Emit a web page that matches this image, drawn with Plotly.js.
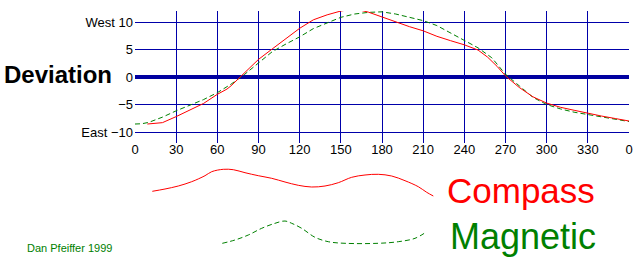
<!DOCTYPE html>
<html>
<head>
<meta charset="utf-8">
<script src="https://cdn.plot.ly/plotly-3.0.1.min.js"></script>
<style>html,body{margin:0;padding:0;background:#fff;}#chart{width:637px;height:261px;}</style>
</head>
<body>
<div id="chart"></div>
<script>
// Heading (degrees) and deviation values
const magneticHeading = [0, 5, 10, 20, 30, 40, 50, 60, 70, 80, 90, 100, 110, 120, 130, 140, 150, 160, 170, 180, 190, 200, 210, 220, 230, 240, 250, 260, 270, 280, 290, 300, 310, 320, 330, 340, 350, 360];
const magneticDeviation = [-8.55, -8.5, -8.25, -7.3, -6.15, -5.1, -4.1, -2.85, -1.3, 0.5, 2.6, 4.6, 6.0, 7.3, 8.8, 9.8, 10.85, 11.45, 11.75, 11.85, 11.45, 10.85, 10.25, 9.35, 8.0, 6.7, 5.3, 3.5, 0.5, -1.6, -3.7, -5.0, -5.8, -6.4, -6.85, -7.3, -7.7, -8.1];
const compassHeading = [9, 20, 30, 40, 50, 60, 67, 70, 80, 90, 100, 110, 120, 130, 140, 150, 160, 170, 180, 190, 200, 210, 220, 230, 240, 250, 257, 264, 270, 280, 290, 300, 310, 320, 330, 340, 350, 360];
const compassDeviation = [-8.55, -8.3, -7.2, -6.0, -4.8, -3.15, -2.2, -1.6, 0.8, 3.2, 5.1, 7.0, 8.85, 10.4, 11.3, 12.0, 12.4, 11.8, 10.9, 10.05, 9.15, 8.4, 7.4, 6.6, 5.85, 4.9, 3.6, 1.9, 0.2, -1.9, -3.6, -4.75, -5.5, -6.05, -6.6, -7.1, -7.55, -8.0];

const xTickVals = [0, 30, 60, 90, 120, 150, 180, 210, 240, 270, 300, 330, 360];
const xTickText = ["0", "30", "60", "90", "120", "150", "180", "210", "240", "270", "300", "330", "0"];
const yTickVals = [-10, -5, 0, 5, 10];
const yTickText = ["East \u221210", "\u22125", "0", "5", "West 10"];

// Legend sample squiggles (in page pixel units)
const compassSampleX = [152.3, 165, 178.3, 191.7, 205, 211.7, 223.3, 233.3, 245, 258.3, 271.7, 285, 298.3, 311.7, 325, 338.3, 351.7, 365, 378.3, 391.7, 405, 418.3, 426.7, 433.3];
const compassSampleY = [191.3, 189, 186, 181.7, 175.7, 171.7, 169.3, 169.7, 172.7, 175.7, 178.3, 182, 185.3, 187, 186, 182.7, 177.3, 175, 174.3, 176, 180.7, 186.7, 192.3, 196];
const magneticSampleX = [222.3, 235, 248.3, 261.7, 275, 285, 291.7, 301.7, 315, 328.3, 345, 378.3, 398.3, 415, 426.7];
const magneticSampleY = [243.3, 240, 235, 228.3, 223.3, 221, 223.3, 228.3, 237.3, 241.7, 243.3, 243.3, 241.7, 238.3, 231.7];

const FONT = "Liberation Sans, Arial, Helvetica, sans-serif";
const GRID = "#0000AA";
const RED = "#FF0000";
const GREEN = "#008000";

const traces = [
  {x: magneticHeading, y: magneticDeviation, type: "scatter", mode: "lines",
   line: {color: GREEN, width: 1, dash: "5px,3px"}, xaxis: "x", yaxis: "y", hoverinfo: "skip"},
  {x: compassHeading, y: compassDeviation, type: "scatter", mode: "lines",
   line: {color: RED, width: 1}, xaxis: "x", yaxis: "y", hoverinfo: "skip"},
  {x: compassSampleX, y: compassSampleY, type: "scatter", mode: "lines",
   line: {color: RED, width: 1, shape: "spline"}, xaxis: "x2", yaxis: "y2", hoverinfo: "skip"},
  {x: magneticSampleX, y: magneticSampleY, type: "scatter", mode: "lines",
   line: {color: GREEN, width: 1, dash: "5px,3px", shape: "spline"}, xaxis: "x2", yaxis: "y2", hoverinfo: "skip"}
];

const layout = {
  width: 637, height: 261,
  margin: {l: 0, r: 0, t: 0, b: 0, pad: 0},
  paper_bgcolor: "#ffffff",
  plot_bgcolor: "rgba(0,0,0,0)",
  showlegend: false,
  font: {family: FONT, size: 13, color: "#000"},
  xaxis: {
    domain: [135/637, 629/637], range: [0, 360], anchor: "y",
    tickmode: "array", tickvals: xTickVals, ticktext: xTickText,
    showgrid: true, gridcolor: GRID, gridwidth: 1,
    zeroline: false, showline: false, ticks: "", automargin: false,
    tickfont: {family: FONT, size: 13, color: "#000"}, ticklabelstandoff: -3
  },
  yaxis: {
    domain: [1 - 143/261, 1 - 11/261], range: [-12, 12], anchor: "x",
    tickmode: "array", tickvals: yTickVals, ticktext: yTickText,
    showgrid: true, gridcolor: GRID, gridwidth: 1,
    zeroline: true, zerolinecolor: "#0000A0", zerolinewidth: 4,
    showline: false, ticks: "", automargin: false,
    tickfont: {family: FONT, size: 13, color: "#000"}, ticklabelstandoff: 1
  },
  xaxis2: {domain: [0, 1], range: [0, 637], anchor: "y2", visible: false, fixedrange: true},
  yaxis2: {domain: [0, 1], range: [261, 0], anchor: "x2", visible: false, fixedrange: true},
  annotations: [
    {xref: "x2", yref: "y2", x: 1.5, y: 74.4, xanchor: "left", yanchor: "middle", showarrow: false,
     text: "Deviation", font: {family: FONT, size: 24, color: "#000", weight: "bold"}},
    {xref: "x2", yref: "y2", x: 445, y: 190, xanchor: "left", yanchor: "middle", showarrow: false,
     text: "Compass", font: {family: FONT, size: 35, color: RED}},
    {xref: "x2", yref: "y2", x: 448, y: 236.2, xanchor: "left", yanchor: "middle", showarrow: false,
     text: "Magnetic", font: {family: FONT, size: 36, color: GREEN}},
    {xref: "x2", yref: "y2", x: 25, y: 247.9, xanchor: "left", yanchor: "middle", showarrow: false,
     text: "Dan Pfeiffer 1999", font: {family: FONT, size: 11, color: GREEN}}
  ]
};

Plotly.newPlot("chart", traces, layout, {staticPlot: true, displayModeBar: false});
</script>
</body>
</html>
